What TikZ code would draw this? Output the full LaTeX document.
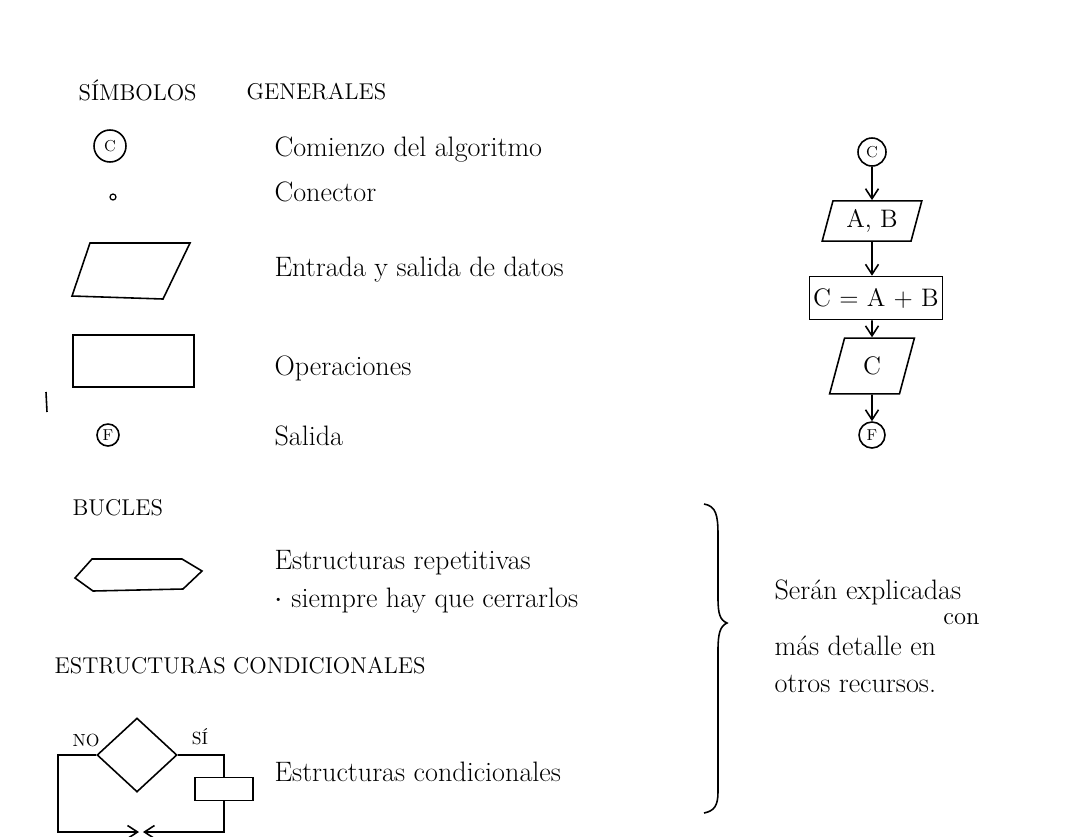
\documentclass[tikz,border=0pt]{standalone}
\usetikzlibrary{shapes.geometric,arrows.meta}
\begin{document}
\begin{tikzpicture}[x=0.02cm,y=-0.02cm,line width=0.9pt,
  txt/.style={anchor=west,inner sep=1pt,font=\fontsize{16}{18}\selectfont},
  head/.style={anchor=west,font=\fontsize{13}{15}\selectfont},
  term/.style={circle,draw,inner sep=0pt,font=\small},
  io/.style={trapezium,trapezium left angle=75,trapezium right angle=105,draw,inner sep=2pt,font=\Large},
  op/.style={rectangle,draw,inner sep=2pt,font=\Large},
  >={Straight Barb[length=2mm,width=2.6mm]}]
\useasboundingbox (0,0) rectangle (1075,836);

% simbolos generales
\node [head] (h1) at (72,90) {SÍMBOLOS};
\node [head] (h2) at (240,92) {GENERALES};
\node [term,minimum size=0.64cm] (sc) at (110,146) {C};
\node [txt] (tc) at (272,150) {Comienzo del algoritmo};
\node [circle,draw,inner sep=0pt,minimum size=0.12cm,line width=0.7pt] (sk) at (113,197) {};
\node [txt] (tk) at (272,192) {Conector};
\draw (72,296) -- (163,299) -- (190,243) -- (90,243) -- cycle;
\node [txt] (te) at (272,270) {Entrada y salida de datos};
\draw (73,335) rectangle (194,387);
\draw (46,392) -- (47,412);
\node [txt] (to) at (272,368) {Operaciones};
\node [term,minimum size=0.44cm] (sf) at (108,435) {F};
\node [txt] (ts) at (272,436) {Salida};

% bucles
\node [head] (h3) at (66,508) {BUCLES};
\draw (75,578) -- (92,559) -- (182,559) -- (202,571) -- (183,589) -- (93,591) -- cycle;
\node [txt] (tr) at (272,563) {Estructuras repetitivas};
\node [txt] (tr2) at (272,601) {$\cdot$ siempre hay que cerrarlos};

% condicionales
\node [head] (h4) at (48,666) {ESTRUCTURAS CONDICIONALES};
\node [diamond,draw,minimum width=1.6cm,minimum height=1.48cm,inner sep=0pt] (dec) at (137,755) {};
\node [op,minimum width=1.16cm,minimum height=0.46cm,inner sep=0pt] (blk) at (224,789) {};
\coordinate (nb) at (58,832);
\coordinate (ml) at (139,832);
\coordinate (mr) at (143,832);
\draw [->] (dec.west) -| (nb) -- (ml);
\draw (dec.east) -| (blk.north);
\draw [->] (blk.south) |- (mr);
\node [font=\normalsize] (no) at (86,740) {NO};
\node [font=\normalsize] (si) at (200,737) {SÍ};
\node [txt] (tcd) at (272,772) {Estructuras condicionales};

% llave y nota
\draw (704,504) .. controls (716,506) and (718,515) .. (718,535) -- (718,598)
  .. controls (718,614) and (720,620) .. (727,623)
  .. controls (720,626) and (718,634) .. (718,650) -- (718,792)
  .. controls (718,806) and (714,811) .. (704,813);
\node [txt] (n1) at (772,592) {Serán explicadas};
\node [anchor=east,inner sep=1pt,font=\fontsize{14}{16}\selectfont] (n2) at (982,619) {con};
\node [txt] (n3) at (772,646) {más detalle en};
\node [txt] (n4) at (772,684) {otros recursos.};

% ejemplo
\node [term,minimum size=0.56cm] (c0) at (872,152) {C};
\node [io,minimum width=2cm,minimum height=0.74cm] (ab) at (872,221) {A, B};
\node [op,minimum width=2.66cm,minimum height=0.86cm] (cab) at (876,298) {C = A + B};
\node [io,minimum width=1.7cm,minimum height=0.7cm] (oc) at (872,366) {C};
\node [term,minimum size=0.52cm] (f0) at (872,435) {F};
\draw [->] (c0) -- (ab);
\draw [->] (ab) -- (ab |- cab.north);
\draw [->] (cab.south -| oc) -- (oc);
\draw [->] (oc) -- (f0);
\end{tikzpicture}
\end{document}
